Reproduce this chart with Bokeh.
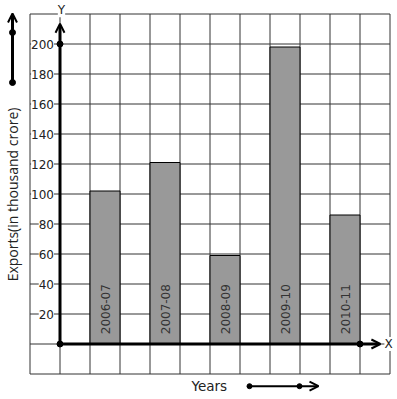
import numpy as np
from bokeh.plotting import figure
from bokeh.models import Range1d, Arrow, OpenHead, ColumnDataSource
from bokeh.core.properties import value
from bokeh.embed import file_html
from bokeh.resources import INLINE

# ---- data ----
years = ["2006-07", "2007-08", "2008-09", "2009-10", "2010-11"]
exports = [102, 121, 59, 198, 86]
bar_pos = [1.5, 3.5, 5.5, 7.5, 9.5]
y_ticks = [20, 40, 60, 80, 100, 120, 140, 160, 180, 200]
y_tick_labels = [str(t) for t in y_ticks]
grid_x = list(range(-1, 12))          # vertical grid lines (cell units)
grid_y = list(range(-20, 221, 20))    # horizontal grid lines (value units)

# ---- layout (pixel mapping) ----
W, H = 396, 398
OX, OY = 59.5, 343.5      # origin pixel
SX, SY = 30.0, 1.5        # px per x unit, px per y unit
x0, x1 = -OX / SX, (W - OX) / SX
y0, y1 = (OY - H) / SY, OY / SY

p = figure(width=W, height=H, output_backend="svg", toolbar_location=None,
           x_range=Range1d(x0, x1), y_range=Range1d(y0, y1),
           min_border=0, outline_line_color=None)
p.axis.visible = False
p.grid.visible = False
p.background_fill_color = "white"

gx0, gx1 = grid_x[0], grid_x[-1]
gy0, gy1 = grid_y[0], grid_y[-1]
# grid
p.segment(x0=grid_x, y0=[gy0] * len(grid_x), x1=grid_x, y1=[gy1] * len(grid_x),
          line_color="#333333", line_width=1)
p.segment(x0=[gx0] * len(grid_y), y0=grid_y, x1=[gx1] * len(grid_y), y1=grid_y,
          line_color="#333333", line_width=1)

# bars
src = ColumnDataSource(dict(x=bar_pos, top=exports, label=years))
p.vbar(x="x", top="top", bottom=0, width=1, source=src,
       fill_color="#999999", line_color="black", line_width=1)
p.text(x="x", y=6.5, text="label", source=src, angle=np.pi / 2,
       text_align="left", text_baseline="middle", text_color="#333333",
       text_font=value("DejaVu Sans"), text_font_size="12px")

# y tick labels with white background
p.text(x=[-0.2] * len(y_ticks), y=y_ticks, text=y_tick_labels,
       text_align="right", text_baseline="middle", text_color="#222222",
       text_font=value("DejaVu Sans"), text_font_size="12px",
       background_fill_color="white", padding=0)

# axes with arrows
y_tip, x_tip = 213.5, 10.68
p.add_layout(Arrow(x_start=0, y_start=0, x_end=0, y_end=y_tip, line_width=3,
                   line_color="black",
                   end=OpenHead(size=9, line_width=2, line_color="black")))
p.add_layout(Arrow(x_start=0, y_start=0, x_end=x_tip, y_end=0, line_width=3,
                   line_color="black",
                   end=OpenHead(size=9, line_width=2, line_color="black")))
p.scatter(x=[0, 0, 10], y=[0, 200, 0], size=6, color="black")

p.text(x=[0.05], y=[222.5], text=["Y"], text_align="center",
       text_baseline="middle", text_font=value("DejaVu Sans"),
       text_font_size="12px", text_color="#222222",
       background_fill_color="white")
p.text(x=[10.95], y=[0], text=["X"], text_align="center",
       text_baseline="middle", text_font=value("DejaVu Sans"),
       text_font_size="12px", text_color="#222222",
       background_fill_color="white")

# axis title (y)
p.text(x=[(12 - OX) / SX], y=[(OY - 194) / SY], text=["Exports(in thousand crore)"],
       angle=np.pi / 2, text_align="center", text_baseline="middle",
       text_font=value("Open Sans"), text_font_size="14px", text_color="#222222")

# left indicator arrow
lx = (12 - OX) / SX
p.add_layout(Arrow(x_start=lx, y_start=(OY - 82) / SY, x_end=lx, y_end=(OY - 13) / SY,
                   line_width=3, line_color="black",
                   end=OpenHead(size=9, line_width=2, line_color="black")))
p.scatter(x=[lx, lx], y=[(OY - 32) / SY, (OY - 82) / SY], size=6, color="black")

# Years label + arrow
by = (OY - 385.7) / SY
p.text(x=[(191 - OX) / SX], y=[by], text=["Years"], text_align="left",
       text_baseline="middle", text_font=value("DejaVu Sans"),
       text_font_size="13.5px", text_color="#222222")
p.add_layout(Arrow(x_start=(249 - OX) / SX, y_start=by, x_end=(318 - OX) / SX, y_end=by,
                   line_width=2, line_color="black",
                   end=OpenHead(size=9, line_width=2, line_color="black")))
p.scatter(x=[(249 - OX) / SX, (299 - OX) / SX], y=[by, by], size=5, color="black")

open("out.html", "w").write(file_html(p, INLINE))
